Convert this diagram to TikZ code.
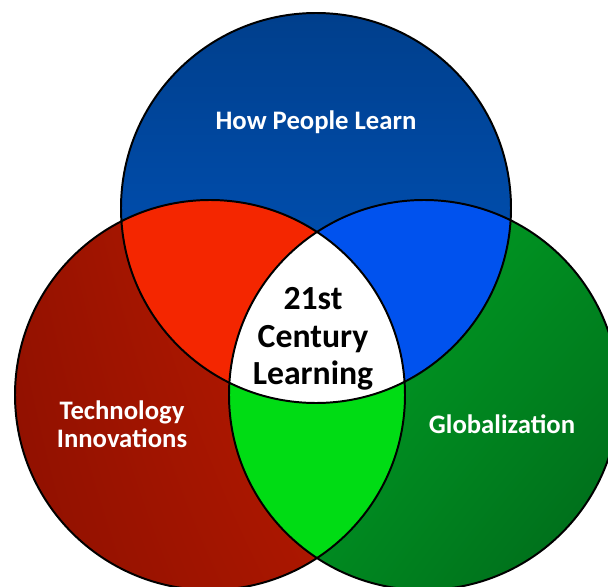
\documentclass[tikz,border=0pt]{standalone}
\usepackage{fontspec}
\setmainfont{Carlito}
\usetikzlibrary{shadings}
\definecolor{learn_dark}{HTML}{003F8C}
\definecolor{learn_light}{HTML}{0057C4}
\definecolor{tech_dark}{HTML}{8E1000}
\definecolor{tech_light}{HTML}{CA1E00}
\definecolor{glob_light}{HTML}{00AE26}
\definecolor{glob_dark}{HTML}{00661A}
\definecolor{red_mix}{HTML}{F42600}
\definecolor{blue_mix}{HTML}{0052EE}
\definecolor{green_mix}{HTML}{00DC14}
\begin{document}
\begin{tikzpicture}[label_text/.style={text=white,font=\bfseries\fontsize{19}{20}\selectfont,align=center},center_text/.style={text=black,font=\bfseries\fontsize{24}{26.5}\selectfont,align=center},ring/.style={draw=black,line width=1.4pt}]
		
		\useasboundingbox (0,0) rectangle (15.2,14.65);
		\clip (0,0) rectangle (15.2,14.65);
		
		% the three circles
		\shade[top color=learn_dark,bottom color=learn_light] (7.9,9.45) circle (4.875);
		\shade[upper right=tech_light,upper left=tech_dark!85!tech_light,lower left=tech_dark,lower right=tech_dark!40!tech_light] (5.25,4.775) circle (4.875);
		\shade[upper left=glob_light,upper right=glob_light!50!glob_dark,lower left=glob_light!60!glob_dark,lower right=glob_dark] (10.6,4.775) circle (4.875);
		
		% overlaps
		\begin{scope}
		\clip (7.9,9.45) circle (4.875);
		\fill[red_mix] (5.25,4.775) circle (4.875);
		\fill[blue_mix] (10.6,4.775) circle (4.875);
		\end{scope}
		\begin{scope}
		\clip (5.25,4.775) circle (4.875);
		\fill[green_mix] (10.6,4.775) circle (4.875);
		\end{scope}
		\begin{scope}
		\clip (7.9,9.45) circle (4.875);
		\clip (5.25,4.775) circle (4.875);
		\fill[white] (10.6,4.775) circle (4.875);
		\end{scope}
		
		\draw[ring] (7.9,9.45) circle (4.875);
		\draw[ring] (5.25,4.775) circle (4.875);
		\draw[ring] (10.6,4.775) circle (4.875);
		
		\node[label_text] (learn) at (7.9,11.6) {How People Learn};
		\node[label_text] (tech) at (3.05,4.05) {Technology\\Innovations};
		\node[label_text] (glob) at (12.55,4.05) {Globalization};
		\node[center_text] (core) at (7.825,6.18) {21st\\Century\\Learning};
		
		\end{tikzpicture}
\end{document}
